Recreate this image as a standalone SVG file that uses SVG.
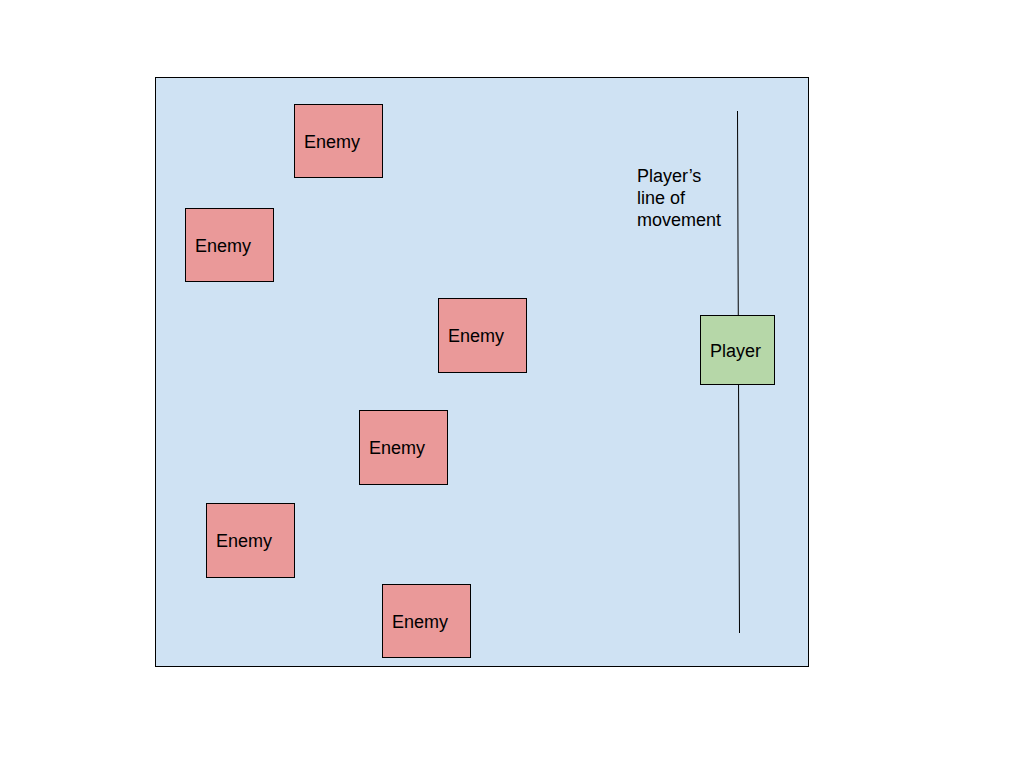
<svg xmlns="http://www.w3.org/2000/svg" width="1024" height="768" viewBox="0 0 1024 768">
<style>
.enemy{fill:#ea9999;stroke:#000;stroke-width:1}
.player{fill:#b6d7a8;stroke:#000;stroke-width:1}
text{font-family:"Liberation Sans",Arial,sans-serif;font-size:18px;fill:#000}
</style>
<rect width="1024" height="768" fill="#fff"/>
<rect id="field" x="155.5" y="77.5" width="653" height="589" fill="#cfe2f3" stroke="#000" stroke-width="1"/>
<g id="connectors">
<line x1="737.5" y1="111" x2="739.5" y2="633" stroke="#000" stroke-width="1"/>
</g>
<g id="label"><text x="637" y="182">Player’s</text><text x="637" y="204">line of</text><text x="637" y="226">movement</text></g>
<g id="enemy1"><rect class="enemy" x="294.5" y="104.5" width="88" height="73"/><text x="304" y="148">Enemy</text></g>
<g id="enemy2"><rect class="enemy" x="185.5" y="208.5" width="88" height="73"/><text x="195" y="252">Enemy</text></g>
<g id="enemy3"><rect class="enemy" x="438.5" y="298.5" width="88" height="74"/><text x="448" y="342">Enemy</text></g>
<g id="enemy4"><rect class="enemy" x="359.5" y="410.5" width="88" height="74"/><text x="369" y="454">Enemy</text></g>
<g id="enemy5"><rect class="enemy" x="206.5" y="503.5" width="88" height="74"/><text x="216" y="547">Enemy</text></g>
<g id="enemy6"><rect class="enemy" x="382.5" y="584.5" width="88" height="73"/><text x="392" y="628">Enemy</text></g>
<g id="player"><rect class="player" x="700.5" y="315.5" width="74" height="69"/><text x="710" y="357">Player</text></g>
</svg>
